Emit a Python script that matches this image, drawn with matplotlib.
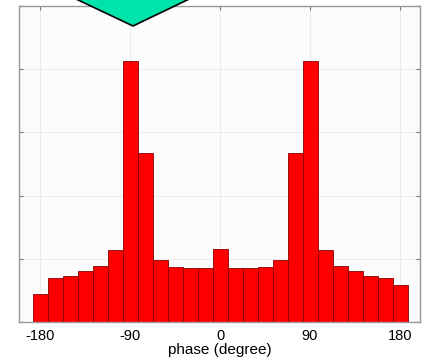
import matplotlib.pyplot as plt
from matplotlib.patches import Polygon

# bin centres (degree) and counts
phase_bins = [-180, -165, -150, -135, -120, -105, -90, -75, -60, -45, -30, -15,
              0, 15, 30, 45, 60, 75, 90, 105, 120, 135, 150, 165, 180]
counts = [0.45, 0.70, 0.73, 0.81, 0.89, 1.14, 4.13, 2.67, 0.98, 0.87, 0.85, 0.86,
          1.16, 0.86, 0.85, 0.87, 0.98, 2.67, 4.13, 1.14, 0.89, 0.81, 0.73, 0.69, 0.58]
x_ticks = [-180, -90, 0, 90, 180]
y_ticks = [0, 1, 2, 3, 4, 5]

plt.rcParams["font.family"] = ["Liberation Sans", "DejaVu Sans"]

fig = plt.figure(figsize=(4.26, 3.6), dpi=100)
ax = fig.add_axes([0.0446, 0.1056, 0.9414, 0.8774])
ax.set_facecolor("#fcfcfc")

ax.bar(phase_bins, counts, width=15, color="#ff0000", edgecolor="#8a0000",
       linewidth=0.6, zorder=2)

ax.set_xlim(-201, 200)
ax.set_ylim(0, 5)
ax.set_xticks(x_ticks)
ax.set_xticklabels([str(t) for t in x_ticks], fontsize=10.5)
ax.set_yticks(y_ticks)
ax.set_yticklabels([])
ax.tick_params(direction="in", length=3, top=True, right=True,
               color="#777777", pad=5)
ax.grid(True, color="#ececec", linewidth=0.8, zorder=0)
for s in ax.spines.values():
    s.set_color("#999999")
    s.set_linewidth(1.0)

ax.set_xlabel("phase (degree)", fontsize=11, labelpad=0)

# teal callout triangle poking in from the top
tri = Polygon([(57 / 426, 1 + 10 / 360), (208 / 426, 1 + 10 / 360),
               (133 / 426, 1 - 26 / 360)],
              closed=True, transform=fig.transFigure,
              facecolor="#00e3aa", edgecolor="black", linewidth=1.2,
              clip_on=False, zorder=10)
fig.patches.append(tri)

fig.savefig("out.png", dpi=100)
